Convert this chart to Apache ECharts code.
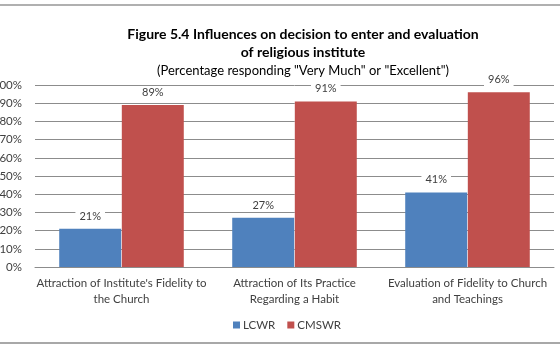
<!DOCTYPE html>
<html>
<head>
<meta charset="utf-8">
<script src="https://cdn.jsdelivr.net/npm/echarts@6/dist/echarts.min.js"></script>
<style>
  html, body { margin: 0; padding: 0; background: #fff; }
  #chart { width: 560px; height: 350px; }
</style>
</head>
<body>
<div id="chart"></div>
<script>
  const categories = [
    "Attraction of Institute's Fidelity to\nthe Church",
    'Attraction of Its Practice\nRegarding a Habit',
    'Evaluation of Fidelity to Church\nand Teachings'
  ]
  const lcwr = [21, 27, 41]
  const cmswr = [89, 91, 96]
  const font = 'Lato, "Open Sans", sans-serif'

  const chart = echarts.init(document.getElementById('chart'))

  const labelOpts = {
    show: true,
    position: 'top',
    distance: 6,
    formatter: '{c}%',
    color: '#404040',
    fontSize: 11,
    fontFamily: font,
    backgroundColor: '#fff',
    padding: [1, 4]
  }

  chart.setOption({
    animation: false,
    title: {
      text: 'Figure 5.4 Influences on decision to enter and evaluation\nof religious institute',
      subtext: '(Percentage responding "Very Much" or "Excellent")',
      left: 298,
      textAlign: 'center',
      top: 20,
      itemGap: 3,
      textStyle: { fontFamily: font, fontSize: 14, fontWeight: 'bold', color: '#000', lineHeight: 18 },
      subtextStyle: { fontFamily: font, fontSize: 13, color: '#000' }
    },
    legend: {
      bottom: 14,
      left: 228,
      itemWidth: 7,
      itemHeight: 7,
      itemGap: 12,
      icon: 'rect',
      textStyle: { fontFamily: font, fontSize: 11.5, color: '#404040', padding: [0, 0, 0, -2] },
      data: ['LCWR', 'CMSWR']
    },
    grid: { left: 35, right: 6, top: 85, bottom: 83, containLabel: false, outerBoundsMode: 'none' },
    xAxis: {
      type: 'category',
      data: categories,
      axisTick: { show: false },
      axisLine: { lineStyle: { color: '#8c8c8c' } },
      axisLabel: { fontFamily: font, fontSize: 11.5, color: '#404040', lineHeight: 16, margin: 8, interval: 0 }
    },
    yAxis: {
      type: 'value',
      min: 0,
      max: 100,
      interval: 10,
      axisLabel: { formatter: '{value}%', fontFamily: font, fontSize: 11.5, color: '#404040', margin: 13 },
      splitLine: { lineStyle: { color: '#8c8c8c' } },
      axisLine: { show: false },
      axisTick: { show: false }
    },
    series: [
      {
        name: 'LCWR', type: 'bar', data: lcwr,
        barGap: '1%', barCategoryGap: '28%',
        itemStyle: { color: '#4f81bd' },
        label: labelOpts
      },
      {
        name: 'CMSWR', type: 'bar', data: cmswr,
        itemStyle: { color: '#c0504d' },
        label: labelOpts
      }
    ],
    graphic: [
      { type: 'rect', shape: { x: 0, y: 4, width: 560, height: 2 }, style: { fill: '#b0b0b0' } },
      { type: 'rect', shape: { x: 0, y: 342, width: 560, height: 2 }, style: { fill: '#a8a8a8' } }
    ]
  })
</script>
</body>
</html>
